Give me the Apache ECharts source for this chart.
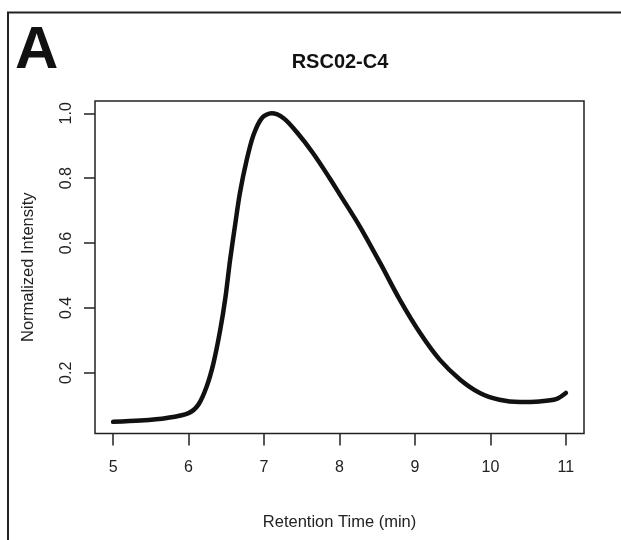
<!DOCTYPE html>
<html>
<head>
<meta charset="utf-8">
<script src="https://cdn.jsdelivr.net/npm/echarts@6/dist/echarts.min.js"></script>
<style>
  html, body { margin: 0; padding: 0; background: #fff; }
  #chart { width: 621px; height: 540px; }
</style>
</head>
<body>
<div id="chart"></div>
<script>
// Data
const retentionTime = [5.0, 5.36, 5.71, 6.0, 6.13, 6.24, 6.33, 6.42, 6.49, 6.55, 6.62, 6.68, 6.77, 6.86, 6.97, 7.10, 7.26, 7.43, 7.65, 7.87, 8.01, 8.27, 8.54, 8.80, 9.07, 9.33, 9.60, 9.86, 10.12, 10.39, 10.65, 10.87, 11.0];
const intensity = [0.049, 0.053, 0.061, 0.076, 0.102, 0.158, 0.230, 0.333, 0.435, 0.548, 0.661, 0.754, 0.856, 0.933, 0.985, 1.0, 0.985, 0.943, 0.877, 0.800, 0.748, 0.651, 0.538, 0.425, 0.322, 0.240, 0.179, 0.138, 0.117, 0.110, 0.112, 0.119, 0.138];
const xTicks = [5, 6, 7, 8, 9, 10, 11];
const yTicks = [0.2, 0.4, 0.6, 0.8, 1.0];
const panelLabel = 'A';
const chartTitle = 'RSC02-C4';
const xTitle = 'Retention Time (min)';
const yTitle = 'Normalized Intensity';

const FONT = '"Liberation Sans", Arial, Helvetica, sans-serif';
const INK = '#222';

const chart = echarts.init(document.getElementById('chart'), null, { renderer: 'canvas' });

chart.setOption({
  animation: false,
  backgroundColor: '#fff',
  textStyle: { fontFamily: FONT },
  graphic: [
    {
      type: 'rect',
      shape: { x: 8, y: 12.5, width: 700, height: 600 },
      style: { fill: 'none', stroke: INK, lineWidth: 2 },
      silent: true
    },
    {
      type: 'text',
      x: 15, y: 21,
      style: { text: panelLabel, font: 'bold 60px ' + FONT, fill: '#111', textAlign: 'left', textVerticalAlign: 'top' }
    },
    {
      type: 'text',
      x: 340, y: 62,
      style: { text: chartTitle, font: 'bold 20px ' + FONT, fill: '#111', textAlign: 'center', textVerticalAlign: 'middle' }
    }
  ],
  grid: {
    left: 95, right: 37, top: 101, bottom: 106.5,
    show: true, borderColor: INK, borderWidth: 1.5, backgroundColor: 'transparent'
  },
  xAxis: {
    type: 'value',
    min: 4.76, max: 11.24,
    axisLine: { show: false },
    splitLine: { show: false },
    axisTick: { show: true, inside: false, length: 12, customValues: xTicks, lineStyle: { color: INK, width: 1.5 } },
    axisLabel: { customValues: xTicks, fontSize: 16, color: INK, margin: 26, fontFamily: FONT },
    name: xTitle,
    nameLocation: 'middle',
    nameGap: 80,
    nameTextStyle: { fontSize: 16.5, color: INK, fontFamily: FONT }
  },
  yAxis: {
    type: 'value',
    min: 0.013, max: 1.038,
    axisLine: { show: false },
    splitLine: { show: false },
    axisTick: { show: true, inside: false, length: 11, customValues: yTicks, lineStyle: { color: INK, width: 1.5 } },
    axisLabel: { customValues: yTicks, rotate: 90, fontSize: 16, color: INK, margin: 20, fontFamily: FONT,
      formatter: v => v.toFixed(1) },
    name: yTitle,
    nameLocation: 'middle',
    nameGap: 58,
    nameTextStyle: { fontSize: 16.5, color: INK, fontFamily: FONT }
  },
  series: [{
    type: 'line',
    data: retentionTime.map((t, i) => [t, intensity[i]]),
    showSymbol: false,
    smooth: 0.3,
    lineStyle: { color: '#111', width: 4.5, cap: 'round', join: 'round' }
  }]
});
</script>
</body>
</html>
